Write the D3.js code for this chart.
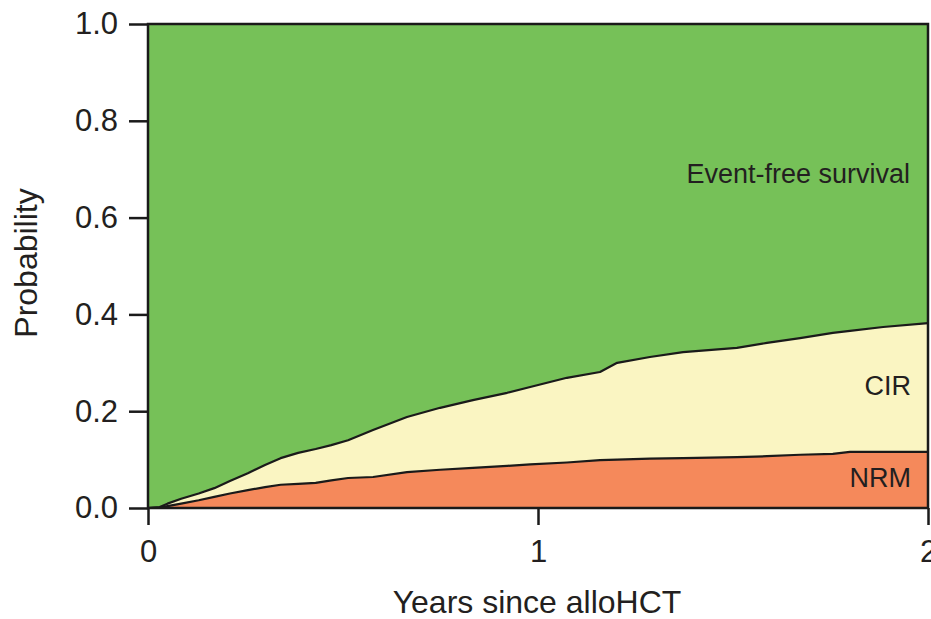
<!DOCTYPE html>
<html>
<head>
<meta charset="utf-8">
<script src="https://cdn.jsdelivr.net/npm/d3@7"></script>
<style>
  body { margin: 0; background: #fff; }
  svg { display: block; }
  text { font-family: "Liberation Sans", Arial, Helvetica, sans-serif; fill: #231f20; }
</style>
</head>
<body>
<svg id="chart" width="931" height="619"></svg>
<script>
// Time since transplant (years) for the cumulative-incidence estimates
const years = [0, 0.03, 0.05, 0.085, 0.13, 0.17, 0.21, 0.256, 0.30, 0.34, 0.385, 0.43, 0.47,
  0.513, 0.577, 0.664, 0.749, 0.833, 0.921, 0.98, 1.074, 1.159, 1.203, 1.287, 1.372,
  1.51, 1.587, 1.672, 1.756, 1.8, 1.885, 2.0];

// Non-relapse mortality (cumulative incidence)
const nrm = [0, 0.001, 0.004, 0.009, 0.016, 0.023, 0.030, 0.037, 0.043, 0.048, 0.050, 0.052, 0.057,
  0.062, 0.064, 0.074, 0.079, 0.083, 0.087, 0.090, 0.094, 0.099, 0.100, 0.102, 0.103,
  0.105, 0.107, 0.110, 0.112, 0.116, 0.116, 0.116];

// NRM + cumulative incidence of relapse (1 - event-free survival)
const nrmPlusCir = [0, 0.002, 0.009, 0.019, 0.030, 0.041, 0.056, 0.072, 0.089, 0.103, 0.114, 0.122, 0.130,
  0.140, 0.161, 0.188, 0.207, 0.223, 0.238, 0.250, 0.269, 0.281, 0.300, 0.312, 0.322,
  0.331, 0.341, 0.351, 0.362, 0.366, 0.374, 0.382];

const yTicks = [0, 0.2, 0.4, 0.6, 0.8, 1.0];
const xTicks = [0, 1, 2];
const regionNames = ["Event-free survival", "CIR", "NRM"];
const xTitle = "Years since alloHCT";
const yTitle = "Probability";

const colors = { efs: "#76c158", cir: "#faf5c2", nrm: "#f5895b", ink: "#1a1a1a" };

const svg = d3.select("#chart");
const x = d3.scaleLinear().domain([0, 2]).range([148, 928]);
const y = d3.scaleLinear().domain([0, 1]).range([508, 24]);

const rows = years.map((t, i) => ({ t, nrm: nrm[i], top: nrmPlusCir[i] }));

// Stacked regions
const areaNrm = d3.area().x(d => x(d.t)).y0(y(0)).y1(d => y(d.nrm));
const areaCir = d3.area().x(d => x(d.t)).y0(d => y(d.nrm)).y1(d => y(d.top));
const areaEfs = d3.area().x(d => x(d.t)).y0(d => y(d.top)).y1(y(1));

svg.append("path").datum(rows).attr("d", areaEfs).attr("fill", colors.efs);
svg.append("path").datum(rows).attr("d", areaCir).attr("fill", colors.cir);
svg.append("path").datum(rows).attr("d", areaNrm).attr("fill", colors.nrm);

// Boundary curves
const lineNrm = d3.line().x(d => x(d.t)).y(d => y(d.nrm));
const lineTop = d3.line().x(d => x(d.t)).y(d => y(d.top));
[lineNrm, lineTop].forEach(gen => {
  svg.append("path").datum(rows).attr("d", gen)
    .attr("fill", "none").attr("stroke", colors.ink)
    .attr("stroke-width", 2.2).attr("stroke-linejoin", "round");
});

// Axes
const yAxis = svg.append("g").attr("transform", `translate(${x(0)},0)`)
  .call(d3.axisLeft(y).tickValues(yTicks).tickFormat(d3.format(".1f")).tickSize(19).tickPadding(11));
const xAxis = svg.append("g").attr("transform", `translate(0,${y(0)})`)
  .call(d3.axisBottom(x).tickValues(xTicks).tickFormat(d3.format("d")).tickSize(17).tickPadding(15));

[yAxis, xAxis].forEach(g => {
  g.select(".domain").remove();
  g.selectAll(".tick line").attr("stroke", colors.ink).attr("stroke-width", 2.5);
  g.selectAll(".tick text").attr("font-size", 31).attr("fill", "#231f20")
    .style("font-family", '"Liberation Sans", Arial, sans-serif');
});

// Plot frame
svg.append("rect")
  .attr("x", x(0)).attr("y", y(1))
  .attr("width", x(2) - x(0)).attr("height", y(0) - y(1))
  .attr("fill", "none").attr("stroke", colors.ink).attr("stroke-width", 2.5);

// Region labels
const labelPos = [
  { x: 910, y: 183 },
  { x: 911, y: 395 },
  { x: 911, y: 487 }
];
regionNames.forEach((name, i) => {
  svg.append("text").attr("x", labelPos[i].x).attr("y", labelPos[i].y)
    .attr("text-anchor", "end").attr("font-size", 27).text(name);
});

// Axis titles
svg.append("text").attr("x", 537).attr("y", 613)
  .attr("text-anchor", "middle").attr("font-size", 32).text(xTitle);
svg.append("text")
  .attr("transform", "translate(37,263) rotate(-90)")
  .attr("text-anchor", "middle").attr("font-size", 32).text(yTitle);
</script>
</body>
</html>
